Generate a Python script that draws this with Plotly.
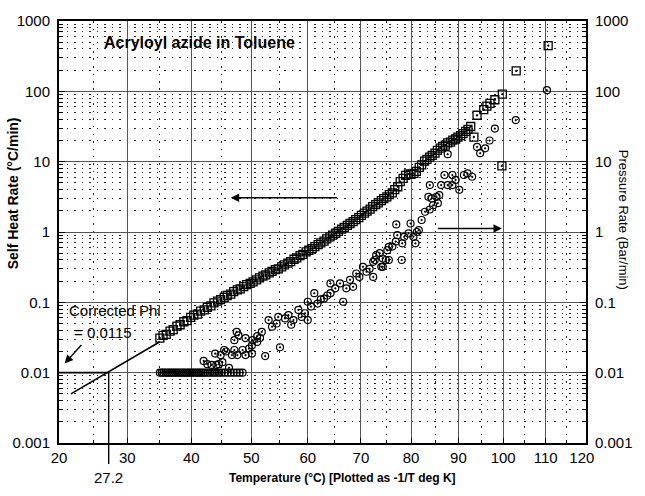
import math
import plotly.graph_objects as go


def inv_t(tc):
    """Temperature in deg C -> plotted abscissa (-1000/T, T in K)."""
    return -1000.0 / (tc + 273.15)


# ---------------- data ----------------
x_tick_temps = [20, 30, 40, 50, 60, 70, 80, 90, 100, 110, 120]
x_tick_labels = ["20", "30", "40", "50", "60", "70", "80", "90", "100", "110",
                 "120\u00a0\u00a0"]
x_minor_temps = [25, 35, 45, 55, 65, 75, 85, 95, 105, 115]
y_tick_vals = [0.001, 0.01, 0.1, 1, 10, 100, 1000]
y_tick_labels = ["0.001", "0.01", "0.1", "1", "10", "100", "1000"]

# Self heat rate (squares)
heat_temp = [
    35.0, 35.5, 36.0, 36.6, 37.1, 37.7, 38.2, 38.8, 39.3, 39.9,
    40.4, 41.0, 41.5, 42.1, 42.6, 43.2, 43.7, 44.3, 44.8, 45.4,
    45.9, 46.5, 47.0, 47.6, 48.1, 48.7, 49.2, 49.8, 50.3, 50.9,
    51.4, 52.0, 52.5, 53.1, 53.6, 54.2, 54.7, 55.3, 55.8, 56.4,
    56.9, 57.5, 58.0, 58.6, 59.1, 59.7, 60.2, 60.8, 61.3, 61.9,
    62.4, 63.0, 63.5, 64.1, 64.6, 65.2, 65.7, 66.3, 66.8, 67.4,
    67.9, 68.5, 69.0, 69.6, 70.1, 70.7, 71.2, 71.8, 72.3, 72.9,
    73.4, 74.0, 74.5, 75.1, 75.6, 76.2, 76.7, 77.3, 77.8, 78.4,
    78.9, 79.5, 80.0, 80.6, 81.1, 81.7, 82.2, 82.8, 83.3, 83.9,
    84.4, 85.0, 85.5, 86.1, 86.6, 87.2, 87.7, 88.3, 88.8, 89.4,
    89.9, 90.5, 91.0, 91.6, 92.1, 92.7, 93.4, 94.1, 95.6, 96.3,
    97.0, 98.1, 99.7, 99.8, 103.0, 110.6,
]
heat_rate = [
    0.031, 0.034, 0.035, 0.039, 0.041, 0.046, 0.048, 0.053, 0.055, 0.061,
    0.066, 0.068, 0.075, 0.078, 0.085, 0.089, 0.098, 0.104, 0.109, 0.118,
    0.125, 0.131, 0.142, 0.150, 0.155, 0.167, 0.178, 0.186, 0.196, 0.208,
    0.222, 0.236, 0.245, 0.262, 0.275, 0.292, 0.30, 0.32, 0.34, 0.36,
    0.38, 0.41, 0.43, 0.46, 0.48, 0.52, 0.55, 0.58, 0.62, 0.66,
    0.70, 0.74, 0.80, 0.85, 0.90, 0.96, 1.02, 1.10, 1.16, 1.24,
    1.32, 1.40, 1.50, 1.60, 1.72, 1.85, 1.98, 2.12, 2.30, 2.45,
    2.60, 2.80, 2.98, 3.15, 3.40, 3.60, 4.00, 4.40, 5.20, 5.80,
    6.40, 6.70, 6.60, 6.80, 7.30, 8.30, 9.00, 10.2, 10.8, 11.6,
    12.3, 13.2, 14.5, 15.6, 16.5, 17.2, 18.5, 19.0, 20.2, 21.0,
    22.4, 23.5, 25.0, 27.0, 28.8, 31.6, 22.4, 45.7, 55.0, 61.7,
    67.6, 75.9, 8.7, 91.2, 195, 447,
]

# Pressure rate (circles)
press_temp = [
    35.0, 35.3, 35.6, 35.9, 36.2, 36.5, 36.8, 37.1, 37.4, 37.7,
    38.0, 38.3, 38.6, 38.9, 39.2, 39.5, 39.8, 40.1, 40.4, 40.7,
    41.0, 41.3, 41.6, 41.9, 42.2, 42.6, 43.0, 43.4, 43.8, 44.2,
    44.6, 45.0, 45.5, 46.0, 46.5, 47.0, 47.5, 48.0, 48.5,
    42.0, 42.6, 43.3, 43.9, 44.1, 44.5, 44.8, 45.1, 45.4, 45.7,
    46.2, 46.7, 47.1, 47.1, 47.5, 47.6, 47.8, 48.5, 49.0, 49.0,
    49.6, 50.1, 50.1, 50.2, 51.0, 51.0, 51.5, 51.8, 52.4, 53.0,
    53.6, 54.4, 54.7, 55.0, 55.9, 56.5, 57.0, 57.4, 58.3, 58.9,
    59.5, 60.0, 60.0, 60.6, 61.2, 61.8, 62.4, 63.0, 63.6, 64.2,
    64.2, 65.1, 66.0, 66.6, 67.2, 67.9, 68.5, 69.1, 69.7, 70.4,
    71.1, 71.7, 72.4, 72.4, 72.7, 73.0, 73.7, 74.0, 74.3, 74.3,
    74.9, 75.2, 75.5, 75.5, 76.2, 76.9, 77.0, 77.2, 78.1, 78.2,
    78.6, 79.5, 79.9, 80.5, 80.9, 81.2, 81.6, 82.2, 82.9, 83.6,
    83.9, 83.9, 84.3, 84.6, 85.3, 85.6, 85.9, 86.3, 87.0, 87.7,
    87.7, 88.7, 88.7, 89.4, 90.2, 91.2, 92.0, 93.0, 94.1, 94.8,
    95.9, 96.9, 98.1, 102.9, 110.3,
]
press_rate = [
    0.01, 0.01, 0.01, 0.01, 0.01, 0.01, 0.01, 0.01, 0.01, 0.01,
    0.01, 0.01, 0.01, 0.01, 0.01, 0.01, 0.01, 0.01, 0.01, 0.01,
    0.01, 0.01, 0.01, 0.01, 0.01, 0.01, 0.01, 0.01, 0.01, 0.01,
    0.01, 0.01, 0.01, 0.01, 0.01, 0.01, 0.01, 0.01, 0.01,
    0.0147, 0.0132, 0.0129, 0.0187, 0.0129, 0.0132, 0.0178, 0.0141, 0.021, 0.020,
    0.0117, 0.0178, 0.021, 0.029, 0.038, 0.0178, 0.034, 0.021, 0.031, 0.0178,
    0.022, 0.0187, 0.0245, 0.029, 0.033, 0.0274, 0.031, 0.038, 0.0172, 0.056,
    0.045, 0.050, 0.062, 0.023, 0.059, 0.066, 0.048, 0.056, 0.078, 0.062,
    0.070, 0.056, 0.102, 0.087, 0.135, 0.096, 0.110, 0.113, 0.125, 0.135,
    0.186, 0.158, 0.186, 0.102, 0.158, 0.209, 0.166, 0.257, 0.23, 0.32,
    0.272, 0.30, 0.377, 0.23, 0.40, 0.468, 0.50, 0.32, 0.42, 0.32,
    0.40, 0.55, 0.616, 0.40, 0.62, 0.73, 1.28, 0.90, 0.40, 0.69,
    0.855, 0.955, 1.32, 0.855, 0.69, 1.0, 1.06, 1.48, 1.94, 3.16,
    2.09, 4.64, 3.0, 2.40, 3.16, 2.57, 3.35, 4.64, 6.46, 4.64,
    12.8, 4.64, 6.46, 5.5, 3.98, 6.46, 6.8, 6.1, 16.2, 13.2,
    15.5, 20, 29.5, 39, 104,
]

# Extrapolation to corrected phi
extrap_temp = [21.7, 35.0]
extrap_rate = [0.005, 0.0275]
onset_temp = 27.2
onset_rate = 0.01
axis_min_rate = 0.001
t_min, t_max = 20, 120

# Arrow positions (deg C, rate)
left_arrow = dict(t_tail=65.7, t_head=46.5, rate=3.07)
right_arrow = dict(t_tail=85.3, t_head=99.7, rate=1.12)
phi_arrow = dict(t_tail=23.4, r_tail=0.026, t_head=20.8, r_head=0.0135)

# ---------------- figure ----------------
FONT = "Arial, 'Liberation Sans', Helvetica, sans-serif"
fig = go.Figure()

fig.add_trace(go.Scatter(
    x=[inv_t(t) for t in extrap_temp], y=extrap_rate, mode="lines",
    line=dict(color="black", width=1.6), showlegend=False, hoverinfo="skip"))
fig.add_trace(go.Scatter(
    x=[inv_t(t_min), inv_t(onset_temp)], y=[onset_rate, onset_rate], mode="lines",
    line=dict(color="black", width=1.6), showlegend=False, hoverinfo="skip"))
fig.add_trace(go.Scatter(
    x=[inv_t(onset_temp), inv_t(onset_temp)], y=[axis_min_rate, onset_rate],
    mode="lines", line=dict(color="black", width=1.4), showlegend=False,
    hoverinfo="skip"))

fig.add_trace(go.Scatter(
    x=[inv_t(t) for t in press_temp], y=press_rate, mode="markers",
    marker=dict(symbol="circle-open-dot", size=7, color="black",
                line=dict(width=1.2, color="black")),
    yaxis="y2", showlegend=False, name="Pressure Rate"))
fig.add_trace(go.Scatter(
    x=[inv_t(t) for t in heat_temp], y=heat_rate, mode="markers",
    marker=dict(symbol="square-open-dot", size=8, color="black",
                line=dict(width=1.3, color="black")),
    showlegend=False, name="Self Heat Rate"))

minor_y = [k * 10.0 ** e for e in range(-3, 3) for k in range(2, 10)]

fig.update_layout(
    width=645, height=496,
    margin=dict(l=59, r=47, t=21, b=53),
    paper_bgcolor="white", plot_bgcolor="white",
    font=dict(family=FONT, size=15, color="black"),
    xaxis=dict(
        range=[inv_t(t_min), inv_t(t_max)],
        tickmode="array", tickvals=[inv_t(t) for t in x_tick_temps],
        ticktext=x_tick_labels,
        ticks="inside", ticklen=5, tickcolor="black",
        showgrid=True, gridcolor="#555", gridwidth=1,
        minor=dict(tickvals=[inv_t(t) for t in x_minor_temps], showgrid=True,
                   gridcolor="#222", griddash="1.5px,6px", gridwidth=1,
                   ticks="inside", ticklen=3, tickcolor="black"),
        showline=True, linecolor="black", linewidth=2, mirror=True,
        zeroline=False, tickfont=dict(size=15),
    ),
    yaxis=dict(
        type="log", range=[-3, 3],
        tickmode="array", tickvals=y_tick_vals, ticktext=y_tick_labels,
        ticks="inside", ticklen=6, tickcolor="black",
        showgrid=True, gridcolor="#555", gridwidth=1,
        minor=dict(tickvals=minor_y, showgrid=True, gridcolor="#222",
                   griddash="1.5px,6px", gridwidth=1, ticks="inside",
                   ticklen=4, tickcolor="black"),
        showline=True, linecolor="black", linewidth=2, mirror=True,
        zeroline=False, tickfont=dict(size=15), ticklabelstandoff=4,
    ),
    yaxis2=dict(
        type="log", range=[-3, 3], overlaying="y", side="right",
        tickmode="array", tickvals=y_tick_vals, ticktext=y_tick_labels,
        ticks="inside", ticklen=6, tickcolor="black",
        minor=dict(tickvals=minor_y, ticks="inside", ticklen=4,
                   tickcolor="black", showgrid=False),
        showgrid=False, showline=True, linecolor="black", linewidth=2,
        zeroline=False, tickfont=dict(size=15), ticklabelstandoff=4,
    ),
)

# tick of 27.2 extending below the axis
fig.add_shape(type="line", xref="x", yref="paper",
              x0=inv_t(onset_temp), x1=inv_t(onset_temp), y0=-0.05, y1=0,
              line=dict(color="black", width=1.4))

ann = []
ann.append(dict(text="27.2", xref="x", yref="paper", x=inv_t(onset_temp),
                y=-0.081, showarrow=False, xanchor="center", yanchor="middle",
                font=dict(size=15)))
ann.append(dict(text="<b>Acryloyl azide in Toluene</b>", xref="paper",
                yref="paper", x=0.081, y=0.950, showarrow=False,
                xanchor="left", yanchor="middle", font=dict(size=16)))
ann.append(dict(text="Corrected Phi", xref="paper", yref="paper", x=0.016,
                y=0.315, showarrow=False, xanchor="left", yanchor="middle",
                font=dict(size=15)))
ann.append(dict(text="= 0.0115", xref="paper", yref="paper", x=0.024,
                y=0.263, showarrow=False, xanchor="left", yanchor="middle",
                font=dict(size=15)))
ann.append(dict(text="<b>Self Heat Rate (°C/min)</b>", xref="paper",
                yref="paper", x=-0.087, y=0.592, textangle=-90,
                showarrow=False, xanchor="center", yanchor="middle",
                font=dict(size=14)))
ann.append(dict(text="Pressure Rate (Bar/min)", xref="paper", yref="paper",
                x=1.071, y=0.528, textangle=90, showarrow=False,
                xanchor="center", yanchor="middle", font=dict(size=13)))
ann.append(dict(text="<b>Temperature (°C) [Plotted as -1/T deg K]</b>",
                xref="paper", yref="paper", x=0.538, y=-0.083,
                showarrow=False, xanchor="center", yanchor="middle",
                font=dict(size=12)))
for a in (left_arrow, right_arrow):
    ann.append(dict(text="", x=inv_t(a["t_head"]), y=math.log10(a["rate"]),
                    xref="x", yref="y", ax=inv_t(a["t_tail"]),
                    ay=math.log10(a["rate"]), axref="x", ayref="y",
                    showarrow=True, arrowhead=2, arrowsize=1.2,
                    arrowwidth=1.4, arrowcolor="black"))
ann.append(dict(text="", x=inv_t(phi_arrow["t_head"]),
                y=math.log10(phi_arrow["r_head"]), xref="x", yref="y",
                ax=inv_t(phi_arrow["t_tail"]), ay=math.log10(phi_arrow["r_tail"]),
                axref="x", ayref="y", showarrow=True, arrowhead=2,
                arrowsize=1.2, arrowwidth=1.4, arrowcolor="black"))
fig.update_layout(annotations=ann)

fig.write_html("out.html")
